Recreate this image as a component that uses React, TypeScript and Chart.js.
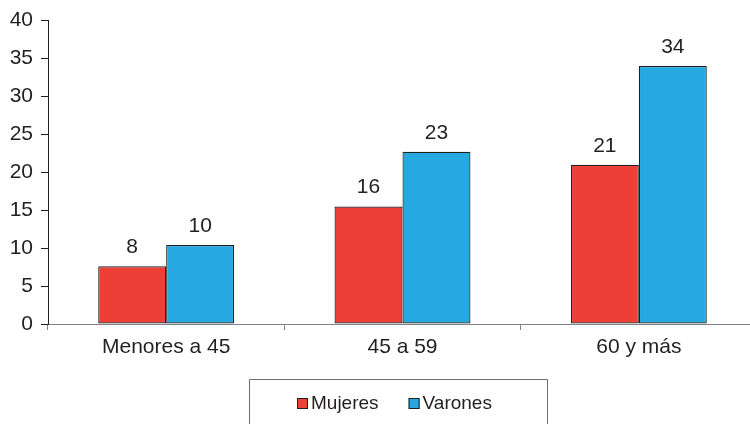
import React, { useEffect, useRef } from "react";
import { Chart, registerables } from "chart.js";

Chart.register(...registerables);

const categories = ["Menores a 45", "45 a 59", "60 y más"];
const mujeres = [7.6, 15.5, 21.0];
const varones = [10.4, 22.7, 34.0];
const seriesNames = ["Mujeres", "Varones"];
const yTicks = [0, 5, 10, 15, 20, 25, 30, 35, 40];

const RED = "#EE3F37";
const BLUE = "#25A9E0";
const INK = "#231F20";
const FONT = "'Liberation Sans', Arial, Helvetica, sans-serif";

// Rounded value printed above every bar
const valueLabels = {
  id: "valueLabels",
  afterDatasetsDraw(chart: any) {
    const ctx = chart.ctx;
    ctx.save();
    ctx.font = `21px ${FONT}`;
    ctx.fillStyle = INK;
    ctx.textAlign = "center";
    ctx.textBaseline = "alphabetic";
    chart.data.datasets.forEach((ds: any, i: number) => {
      const meta = chart.getDatasetMeta(i);
      meta.data.forEach((el: any, j: number) => {
        const v = ds.data[j] as number;
        ctx.fillText(String(Math.round(v)), el.x, el.y - 13);
      });
    });
    ctx.restore();
  },
};

// Boxed legend under the category labels
const boxedLegend = {
  id: "boxedLegend",
  afterDraw(chart: any) {
    const ctx = chart.ctx;
    const boxL = 249;
    const boxR = 547;
    const boxT = 379;
    ctx.save();
    ctx.strokeStyle = "#6D6E71";
    ctx.lineWidth = 1;
    ctx.beginPath();
    ctx.moveTo(boxL + 0.5, chart.height + 2);
    ctx.lineTo(boxL + 0.5, boxT + 0.5);
    ctx.lineTo(boxR + 0.5, boxT + 0.5);
    ctx.lineTo(boxR + 0.5, chart.height + 2);
    ctx.stroke();

    ctx.font = `19px ${FONT}`;
    ctx.textBaseline = "alphabetic";
    ctx.textAlign = "left";
    const sq = 11;
    const gapSq = 3;
    const gapItem = 30;
    const items = chart.data.datasets.map((ds: any) => ({
      label: ds.label as string,
      color: ds.backgroundColor as string,
      w: ctx.measureText(ds.label).width,
    }));
    const total =
      items.reduce((s: number, it: any) => s + sq + gapSq + it.w, 0) +
      gapItem * (items.length - 1);
    let x = Math.round((boxL + boxR) / 2 - 4 - total / 2);
    const sqTop = 398;
    items.forEach((it: any) => {
      ctx.fillStyle = it.color;
      ctx.fillRect(x, sqTop, sq, sq);
      ctx.strokeStyle = INK;
      ctx.strokeRect(x + 0.5, sqTop + 0.5, sq - 1, sq - 1);
      ctx.fillStyle = INK;
      ctx.fillText(it.label, x + sq + gapSq, sqTop + sq);
      x += sq + gapSq + it.w + gapItem;
    });
    ctx.restore();
  },
};

export default function App() {
  const ref = useRef<HTMLCanvasElement>(null);

  useEffect(() => {
    if (!ref.current) return;
    const chart = new Chart(ref.current, {
      type: "bar",
      data: {
        labels: categories,
        datasets: [
          {
            label: seriesNames[0],
            data: mujeres,
            backgroundColor: RED,
            borderColor: INK,
            borderWidth: 1.2,
            borderSkipped: false,
          },
          {
            label: seriesNames[1],
            data: varones,
            backgroundColor: BLUE,
            borderColor: INK,
            borderWidth: 1.2,
            borderSkipped: false,
          },
        ],
      },
      options: {
        responsive: false,
        animation: false,
        events: [],
        layout: { padding: { top: 19, right: 3, left: 0, bottom: 0 } },
        datasets: {
          bar: { categoryPercentage: 0.575, barPercentage: 1 },
        },
        plugins: {
          legend: { display: false },
          tooltip: { enabled: false },
          title: { display: false },
        },
        scales: {
          x: {
            offset: true,
            grid: {
              offset: true,
              drawOnChartArea: false,
              drawTicks: true,
              tickLength: 6,
              color: "#808285",
            },
            border: { display: true, color: "#808285", width: 1 },
            ticks: {
              color: INK,
              font: { family: FONT, size: 21 },
              padding: 5,
              maxRotation: 0,
            },
            afterFit(scale: any) {
              scale.height = 100;
            },
          },
          y: {
            min: 0,
            max: 40,
            afterBuildTicks(scale: any) {
              scale.ticks = yTicks.map((v) => ({ value: v }));
            },
            grid: {
              drawOnChartArea: false,
              drawTicks: true,
              tickLength: 7,
              color: INK,
            },
            border: { display: true, color: INK, width: 1 },
            ticks: {
              color: INK,
              font: { family: FONT, size: 21 },
              padding: 8,
            },
            afterFit(scale: any) {
              scale.width = 48;
            },
          },
        },
      },
      plugins: [valueLabels, boxedLegend],
    });
    return () => chart.destroy();
  }, []);

  return (
    <div
      style={{
        position: "fixed",
        left: 0,
        top: 0,
        width: 750,
        height: 424,
        overflow: "hidden",
        background: "#fff",
      }}
    >
      <canvas ref={ref} width={760} height={424} style={{ display: "block" }} />
    </div>
  );
}
